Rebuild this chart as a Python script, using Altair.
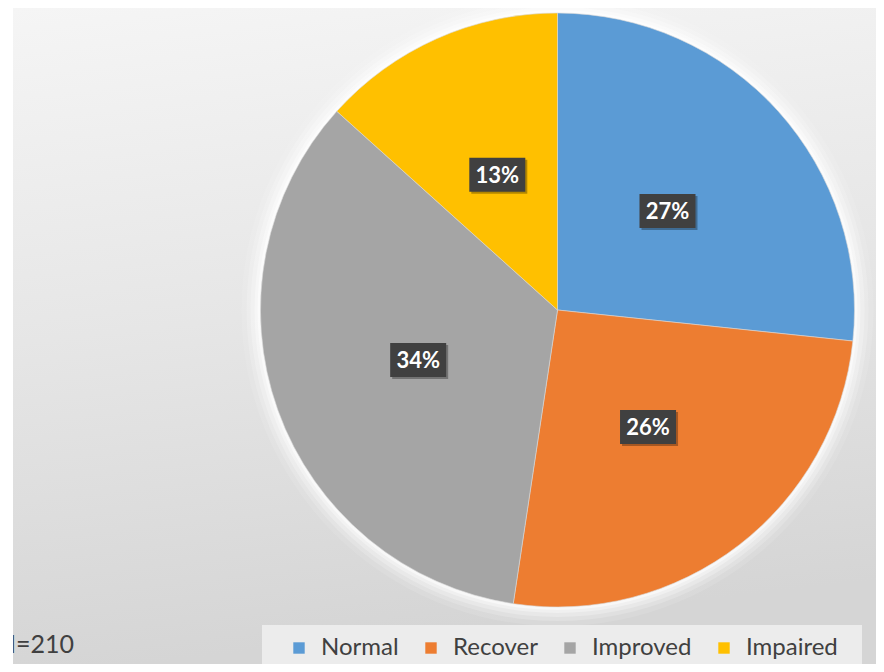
import altair as alt
import pandas as pd

# ---- data ----
categories = ["Normal", "Recover", "Improved", "Impaired"]
counts = [56, 54, 72, 28]          # N = 210
percent_labels = ["27%", "26%", "34%", "13%"]
colors = ["#5B9BD5", "#ED7D31", "#A5A5A5", "#FFC000"]
n_label = "N=210"

# ---- layout ----
W, H = 868, 656
CX, CY, R = 549.5, 302, 297
LR = 148          # radius of label centres
BW, BH = 28, 17   # half size of label boxes

df = pd.DataFrame({
    "category": categories,
    "count": counts,
    "label": percent_labels,
    "idx": list(range(len(categories))),
})
one = pd.DataFrame({"a": [0]})

bg = alt.Chart(one).mark_rect(
    fill={"gradient": "linear", "x1": 0, "y1": 0, "x2": 0.15, "y2": 1,
          "stops": [{"offset": 0, "color": "#f5f5f5"},
                    {"offset": 0.5, "color": "#e6e6e6"},
                    {"offset": 1, "color": "#d5d5d5"}]}
).encode(x=alt.value(5), x2=alt.value(W), y=alt.value(0), y2=alt.value(H))

glows = []
for r, op in [(316, 0.10), (311, 0.18), (307, 0.25), (303, 0.35), (300, 0.5)]:
    glows.append(
        alt.Chart(one).mark_arc(theta=0, theta2=6.2832, outerRadius=r, fill="white", opacity=op)
        .encode(x=alt.value(CX), y=alt.value(CY))
    )

pie = alt.Chart(df).mark_arc(outerRadius=R, stroke="#d8d8d8", strokeWidth=0.6).encode(
    theta=alt.Theta("count:Q", stack=True),
    color=alt.Color(
        "category:N",
        scale=alt.Scale(domain=categories, range=colors),
        legend=alt.Legend(
            orient="none", legendX=279, legendY=628, direction="horizontal",
            title=None, padding=0, symbolType="square", symbolSize=130,
            symbolStrokeWidth=0, labelFont="Lato", labelFontSize=24,
            labelColor="#404040", labelOffset=10, columnPadding=20,
        ),
        sort=categories,
    ),
    order=alt.Order("idx:Q"),
    x=alt.value(CX), y=alt.value(CY),
)

lab = alt.Chart(df).transform_window(
    cum="sum(count)", sort=[alt.SortField("idx")], frame=[None, 0]
).transform_joinaggregate(total="sum(count)").transform_calculate(
    ang="2*PI*(datum.cum - datum.count/2)/datum.total",
    lx=f"{CX} + {LR}*sin(datum.ang)",
    ly=f"{CY} - {LR}*cos(datum.ang)",
    bx1=f"datum.lx - {BW}", bx2=f"datum.lx + {BW}",
    by1=f"datum.ly - {BH}", by2=f"datum.ly + {BH}",
    sx1=f"datum.lx - {BW} + 2", sx2=f"datum.lx + {BW} + 2",
    sy1=f"datum.ly - {BH} + 2", sy2=f"datum.ly + {BH} + 2",
)

shadow = lab.mark_rect(fill="black", opacity=0.3).encode(
    x=alt.X("sx1:Q", scale=None, axis=None), x2="sx2:Q",
    y=alt.Y("sy1:Q", scale=None, axis=None), y2="sy2:Q",
)
box = lab.mark_rect(fill="#404040").encode(
    x=alt.X("bx1:Q", scale=None, axis=None), x2="bx2:Q",
    y=alt.Y("by1:Q", scale=None, axis=None), y2="by2:Q",
)
txt = lab.mark_text(font="Lato", fontSize=22, fontWeight="bold", color="white",
                    align="center", baseline="middle", dy=1).encode(
    x=alt.X("lx:Q", scale=None, axis=None),
    y=alt.Y("ly:Q", scale=None, axis=None),
    text="label:N",
)

legend_bg = alt.Chart(one).mark_rect(fill="#ececec").encode(
    x=alt.value(254), x2=alt.value(854), y=alt.value(617), y2=alt.value(657)
)

ntext = alt.Chart(one).mark_text(
    text=n_label, font="Lato", fontSize=25, color="#404040", align="left", baseline="alphabetic"
).encode(x=alt.value(-11), y=alt.value(645))

edge = alt.Chart(one).mark_rect(fill="white").encode(
    x=alt.value(0), x2=alt.value(5), y=alt.value(0), y2=alt.value(H)
)

chart = alt.layer(bg, *glows, legend_bg, pie, shadow, box, txt, ntext, edge).properties(
    width=W, height=H,
    autosize=alt.AutoSizeParams(type="none"),
    padding=0,
).configure_view(stroke=None)

chart.save("out.html", embed_options={"renderer": "svg", "actions": False})
